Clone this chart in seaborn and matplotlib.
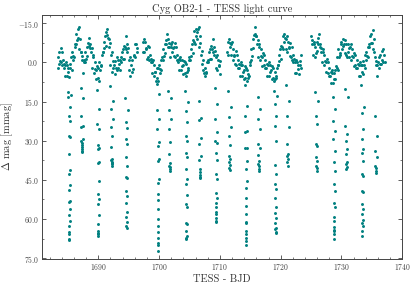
import numpy as np
import pandas as pd
import seaborn as sns
import matplotlib
matplotlib.use("Agg")
import matplotlib.pyplot as plt
from matplotlib.ticker import MultipleLocator, FuncFormatter

# %% Light curve (BJD - 2457000, mmag)
# quiescent band, sector 14 first orbit
band1_time = [
    1683.3, 1683.4, 1683.5, 1683.6, 1683.7, 1683.8, 1683.9, 1684.0, 1684.1, 1684.2,
    1684.3, 1684.4, 1684.5, 1684.6, 1684.7, 1684.8, 1684.9, 1685.0, 1685.1, 1685.2,
    1685.3, 1685.4, 1685.5, 1685.6, 1685.7, 1685.8, 1685.9, 1686.0, 1686.1, 1686.2,
    1686.3, 1686.4, 1686.5, 1686.6, 1686.7, 1686.8, 1686.9, 1687.0, 1687.1, 1687.2,
    1687.3, 1687.4, 1687.5, 1687.6, 1687.7, 1687.8, 1687.9, 1688.0, 1688.1, 1688.2,
    1688.3, 1688.4, 1688.5, 1688.6, 1688.7, 1688.8, 1688.9, 1689.0, 1689.1, 1689.2,
    1689.3, 1689.4, 1689.5, 1689.6, 1689.7, 1689.8, 1689.9, 1690.0, 1690.1, 1690.2,
    1690.3, 1690.4, 1690.5, 1690.6, 1690.7, 1690.8, 1690.9, 1691.0, 1691.1, 1691.2,
    1691.3, 1691.4, 1691.5, 1691.6, 1691.7, 1691.8, 1691.9, 1692.0, 1692.1, 1692.2,
    1692.3, 1692.4, 1692.5, 1692.6, 1692.7, 1692.8, 1692.9, 1693.0, 1693.1, 1693.2,
    1693.3, 1693.4, 1693.5, 1693.6, 1693.7, 1693.8, 1693.9, 1694.0, 1694.1, 1694.2,
    1694.3, 1694.4, 1694.5, 1694.6, 1694.7, 1694.8, 1694.9, 1695.0, 1695.1, 1695.2,
    1695.3, 1695.4, 1695.5, 1695.6, 1695.7, 1695.8, 1695.9, 1696.0, 1696.1, 1696.2,
    1696.3, 1696.4,
]
band1_mag = [
    2, -2, 0.5, -4, -0.5, -5.5, 0, -4, 1, -1,
    2, 0.5, 5, 1, 0, 5, 1, 3.5, 2, 5.5,
    0.5, 2, -2, 3, -4, -1, -2.5, -2, -6, -7,
    -7, -11, -8.5, -13, -9.5, -13.5, -5, -9, -4, -4,
    -1, -2.5, 4, 0, -1, 0, -4, -1.5, -6, -2.5,
    -7.5, -6.5, -9.5, -5.5, -7, -4, -5.5, 2, -2, -3,
    4, 0, 2.5, 3, 6.5, 1.5, 6, 2, 7, 0,
    3, 1.5, 1, -3, -4, -4, -8, -5.5, -10, -6.5,
    -11.5, -10.5, -13, -9.5, -9, -6, -7.5, 1, -3, -4,
    3.5, -0.5, 2, 1, 4.5, -0.5, 2, -2, 3, -1,
    2, 0.5, 3, -1, -2, 0, -4, -1.5, -5, -1.5,
    -6.5, -6, -10, -5, -7, -4, -5.5, 3, -1, -2,
    5, 1, 3.5, -1, 2.5, -2.5, -3, -7, -2, -7,
    -4, -5.5,
]

# sector 14 second orbit
band2_time = [
    1697.3, 1697.4, 1697.5, 1697.6, 1697.7, 1697.8, 1697.9, 1698.0, 1698.1, 1698.2,
    1698.3, 1698.4, 1698.5, 1698.6, 1698.7, 1698.8, 1698.9, 1699.0, 1699.1, 1699.2,
    1699.3, 1699.4, 1699.5, 1699.6, 1699.7, 1699.8, 1699.9, 1700.0, 1700.1, 1700.2,
    1700.3, 1700.4, 1700.5, 1700.6, 1700.7, 1700.8, 1700.9, 1701.0, 1701.1, 1701.2,
    1701.3, 1701.4, 1701.5, 1701.6, 1701.7, 1701.8, 1701.9, 1702.0, 1702.1, 1702.2,
    1702.3, 1702.4, 1702.5, 1702.6, 1702.7, 1702.8, 1702.9, 1703.0, 1703.1, 1703.2,
    1703.3, 1703.4, 1703.5, 1703.6, 1703.7, 1703.8, 1703.9, 1704.0, 1704.1, 1704.2,
    1704.3, 1704.4, 1704.5, 1704.6, 1704.7, 1704.8, 1704.9, 1705.0, 1705.1, 1705.2,
    1705.3, 1705.4, 1705.5, 1705.6, 1705.7, 1705.8, 1705.9, 1706.0, 1706.1, 1706.2,
    1706.3, 1706.4, 1706.5, 1706.6, 1706.7, 1706.8, 1706.9, 1707.0, 1707.1, 1707.2,
    1707.3, 1707.4, 1707.5, 1707.6, 1707.7, 1707.8, 1707.9, 1708.0, 1708.1, 1708.2,
    1708.3, 1708.4, 1708.5, 1708.6, 1708.7, 1708.8, 1708.9, 1709.0, 1709.1, 1709.2,
    1709.3, 1709.4, 1709.5, 1709.6, 1709.7, 1709.8, 1709.9, 1710.0, 1710.1,
]
band2_mag = [
    -4, -8, -9, -4, -8, -5.5, -5, -1.5, -6.5, -2,
    -6, -1, -3, 0, -1.5, 4, 0, -1, 5, 1,
    3.5, 3.5, 7, 2, 6, 2, 7, 1, 4, 2.5,
    3, -1, -2, -1, -5, -2.5, -7, -3.5, -8.5, -7,
    -11, -6, -9, -6, -7.5, -2, -6, -7, -4, -8,
    -5.5, -6, -2.5, -7.5, -2, -6, -1, -3, 0, -1.5,
    3, -1, -2, 3, -1, 1.5, 1, 4.5, -0.5, 4,
    0, 5, 0.5, 3.5, 2, 3, -1, -2, -1, -5,
    -2.5, -7, -3.5, -8.5, -8, -12, -7, -13, -10, -11.5,
    -9, -13, -13.5, -6, -10, -7.5, -3, 0.5, -4.5, 3,
    -1, 4, 2, 5, 3.5, 4, 0, -1, 0, -4,
    -1.5, -5, -1.5, -6.5, -5, -9, -4, -6, -3, -4.5,
    2, -2, -3, 3, -1, 1.5, 1, 4.5, -0.5,
]

# sector 15 first orbit
band3_time = [
    1711.2, 1711.3, 1711.4, 1711.5, 1711.6, 1711.7, 1711.8, 1711.9, 1712.0, 1712.1,
    1712.2, 1712.3, 1712.4, 1712.5, 1712.6, 1712.7, 1712.8, 1712.9, 1713.0, 1713.1,
    1713.2, 1713.3, 1713.4, 1713.5, 1713.6, 1713.7, 1713.8, 1713.9, 1714.0, 1714.1,
    1714.2, 1714.3, 1714.4, 1714.5, 1714.6, 1714.7, 1714.8, 1714.9, 1715.0, 1715.1,
    1715.2, 1715.3, 1715.4, 1715.5, 1715.6, 1715.7, 1715.8, 1715.9, 1716.0, 1716.1,
    1716.2, 1716.3, 1716.4, 1716.5, 1716.6, 1716.7, 1716.8, 1716.9, 1717.0, 1717.1,
    1717.2, 1717.3, 1717.4, 1717.5, 1717.6, 1717.7, 1717.8, 1717.9, 1718.0, 1718.1,
    1718.2, 1718.3, 1718.4, 1718.5, 1718.6, 1718.7, 1718.8, 1718.9, 1719.0, 1719.1,
    1719.2, 1719.3, 1719.4, 1719.5, 1719.6, 1719.7, 1719.8, 1719.9, 1720.0, 1720.1,
    1720.2, 1720.3, 1720.4, 1720.5, 1720.6, 1720.7, 1720.8, 1720.9, 1721.0, 1721.1,
    1721.2, 1721.3, 1721.4, 1721.5, 1721.6, 1721.7, 1721.8, 1721.9, 1722.0, 1722.1,
    1722.2, 1722.3, 1722.4, 1722.5, 1722.6, 1722.7, 1722.8, 1722.9, 1723.0, 1723.1,
    1723.2, 1723.3, 1723.4,
]
band3_mag = [
    -4, -8, -3, -9, -6, -7.5, -3, -7, -8, -1,
    -5, -2.5, -3, 0.5, -4.5, 1, -3, 2, -1, 2,
    0.5, 5, 1, 0, 5, 1, 3.5, 3, 6.5, 1.5,
    6, 2, 7, 3, 6, 4.5, 5, 1, 0, -1,
    -5, -2.5, -9, -5.5, -10.5, -11, -13.5, -10, -10, -7,
    -8.5, -2, -6, -7, -1, -5, -2.5, -2, 1.5, -3.5,
    1, -3, 2, -1, 2, 0.5, 5, 1, 0, 5,
    1, 3.5, 3, 6.5, 1.5, 6, 2, 7, 3.5, 6.5,
    5, 6, 2, 1, 1, -3, -0.5, -5, -1.5, -6.5,
    -6, -10, -5, -11, -8, -9.5, -5, -9, -10, -4,
    -8, -5.5, -6, -2.5, -7.5, -2, -6, -1, -3, 0,
    -1.5, 4, 0, -1, 4, 0, 2.5, 1, 4.5, -0.5,
    1, -3, 2,
]

# sector 15 second orbit
band4_time = [
    1725.0, 1725.1, 1725.2, 1725.3, 1725.4, 1725.5, 1725.6, 1725.7, 1725.8, 1725.9,
    1726.0, 1726.1, 1726.2, 1726.3, 1726.4, 1726.5, 1726.6, 1726.7, 1726.8, 1726.9,
    1727.0, 1727.1, 1727.2, 1727.3, 1727.4, 1727.5, 1727.6, 1727.7, 1727.8, 1727.9,
    1728.0, 1728.1, 1728.2, 1728.3, 1728.4, 1728.5, 1728.6, 1728.7, 1728.8, 1728.9,
    1729.0, 1729.1, 1729.2, 1729.3, 1729.4, 1729.5, 1729.6, 1729.7, 1729.8, 1729.9,
    1730.0, 1730.1, 1730.2, 1730.3, 1730.4, 1730.5, 1730.6, 1730.7, 1730.8, 1730.9,
    1731.0, 1731.1, 1731.2, 1731.3, 1731.4, 1731.5, 1731.6, 1731.7, 1731.8, 1731.9,
    1732.0, 1732.1, 1732.2, 1732.3, 1732.4, 1732.5, 1732.6, 1732.7, 1732.8, 1732.9,
    1733.0, 1733.1, 1733.2, 1733.3, 1733.4, 1733.5, 1733.6, 1733.7, 1733.8, 1733.9,
    1734.0, 1734.1, 1734.2, 1734.3, 1734.4, 1734.5, 1734.6, 1734.7, 1734.8, 1734.9,
    1735.0, 1735.1, 1735.2, 1735.3, 1735.4, 1735.5, 1735.6, 1735.7, 1735.8, 1735.9,
    1736.0, 1736.1, 1736.2, 1736.3, 1736.4, 1736.5, 1736.6, 1736.7, 1736.8, 1736.9,
    1737.0, 1737.1,
]
band4_mag = [
    -10, -7, -8.5, -3, -7, -8, -2, -6, -3.5, -8,
    -4.5, -9.5, -7, -11, -6, -7, -4, -5.5, 0, -4,
    -5, 1, -3, -0.5, 0, 3.5, -1.5, 4, 0, 5,
    2, 5, 3.5, 8, 4, 3, 8, 4, 6.5, 3,
    6.5, 1.5, 2, -2, 3, -5, -2, -3.5, -3, -7,
    -8, -5, -9, -6.5, -7, -3.5, -8.5, -3, -7, -2,
    -7, -4, -5.5, -2, -6, -7, -1, -5, -2.5, -2,
    1.5, -3.5, 1, -3, 2, -1, 2, 0.5, 5, 1,
    0, 5, 1, 3.5, 1, 4.5, -0.5, 1, -3, 2,
    -4, -1, -2.5, -2, -6, -7, -6, -10, -7.5, -11,
    -7.5, -12.5, -5, -9, -4, -2, 1, -0.5, 5, 1,
    0, 2, -2, 0.5, -3, 0.5, -4.5, -1, -5, 0,
    -3, 0,
]

# eclipse points (ingress / egress), one line per eclipse
ecl_time = [
    1685.05, 1685.45, 1685.10, 1685.40, 1685.12, 1685.38, 1685.15, 1685.35, 1685.18, 1685.32, 1685.20, 1685.30,
    1685.22, 1685.28, 1685.20, 1685.30, 1685.22, 1685.28, 1685.23, 1685.27, 1685.24, 1685.26, 1685.25,
    1687.10, 1687.50, 1687.15, 1687.45, 1687.18, 1687.42, 1687.22, 1687.38, 1687.25, 1687.35, 1687.28, 1687.32, 1687.30,
    1689.80, 1690.20, 1689.85, 1690.15, 1689.88, 1690.12, 1689.90, 1690.10, 1689.92, 1690.08, 1689.94, 1690.06,
    1689.96, 1690.04, 1689.97, 1690.03, 1689.98, 1690.02, 1690.00,
    1692.00, 1692.40, 1692.05, 1692.35, 1692.08, 1692.32, 1692.12, 1692.28, 1692.15, 1692.25, 1692.18, 1692.22, 1692.20,
    1694.45, 1694.85, 1694.50, 1694.80, 1694.52, 1694.78, 1694.55, 1694.75, 1694.58, 1694.72, 1694.60, 1694.70,
    1694.62, 1694.68, 1694.63, 1694.67, 1694.64, 1694.66,
    1699.65, 1700.05, 1699.70, 1700.00, 1699.72, 1699.98, 1699.75, 1699.95, 1699.78, 1699.92, 1699.80, 1699.90,
    1699.81, 1699.89, 1699.82, 1699.88, 1699.83, 1699.87, 1699.84, 1699.86, 1699.85,
    1701.55, 1701.95, 1701.60, 1701.90, 1701.63, 1701.87, 1701.67, 1701.83, 1701.70, 1701.80, 1701.73, 1701.76,
    1704.30, 1704.70, 1704.35, 1704.65, 1704.38, 1704.62, 1704.40, 1704.60, 1704.42, 1704.58, 1704.44, 1704.56,
    1704.46, 1704.54, 1704.47, 1704.53, 1704.48, 1704.52, 1704.49, 1704.50,
    1706.50, 1706.90, 1706.55, 1706.85, 1706.58, 1706.82, 1706.62, 1706.78, 1706.65, 1706.75, 1706.68, 1706.72,
    1709.20, 1709.60, 1709.25, 1709.55, 1709.28, 1709.52, 1709.30, 1709.50, 1709.32, 1709.48, 1709.34, 1709.46,
    1709.36, 1709.44, 1709.37, 1709.43, 1709.38, 1709.42, 1709.40,
    1711.40, 1711.80, 1711.45, 1711.75, 1711.48, 1711.72, 1711.52, 1711.68, 1711.55, 1711.65, 1711.58, 1711.62,
    1714.10, 1714.50, 1714.15, 1714.45, 1714.18, 1714.42, 1714.20, 1714.40, 1714.22, 1714.38, 1714.24, 1714.36,
    1714.26, 1714.34, 1714.27, 1714.33, 1714.28, 1714.32, 1714.29, 1714.31, 1714.30,
    1716.20, 1716.60, 1716.25, 1716.55, 1716.28, 1716.52, 1716.32, 1716.48, 1716.35, 1716.45, 1716.38, 1716.42,
    1718.95, 1719.35, 1719.00, 1719.30, 1719.03, 1719.27, 1719.05, 1719.25, 1719.07, 1719.23, 1719.09, 1719.21,
    1719.11, 1719.19, 1719.12, 1719.18, 1719.13, 1719.17, 1719.15,
    1720.95, 1721.35, 1721.00, 1721.30, 1721.05, 1721.25, 1721.09, 1721.21, 1721.12, 1721.17,
    1725.70, 1726.10, 1725.75, 1726.05, 1725.78, 1726.02, 1725.82, 1725.98, 1725.85, 1725.95, 1725.90,
    1728.60, 1729.00, 1728.65, 1728.95, 1728.68, 1728.92, 1728.70, 1728.90, 1728.72, 1728.88, 1728.74, 1728.86,
    1728.76, 1728.84, 1728.77, 1728.83, 1728.78, 1728.82, 1728.80,
    1730.60, 1731.00, 1730.65, 1730.95, 1730.68, 1730.92, 1730.72, 1730.88, 1730.75, 1730.85, 1730.80,
    1733.25, 1733.65, 1733.30, 1733.60, 1733.33, 1733.57, 1733.35, 1733.55, 1733.37, 1733.53, 1733.39, 1733.51,
    1733.40, 1733.50, 1733.41, 1733.49, 1733.42, 1733.48, 1733.43, 1733.45,
    1735.45, 1735.85, 1735.50, 1735.80, 1735.55, 1735.75, 1735.60, 1735.68,
]
ecl_mag = [
    11.4, 12.4, 13.3, 17.2, 20.4, 22.3, 28.0, 28.7, 34.9, 41.1, 42.9, 46.8,
    48.9, 52.9, 53.3, 56.3, 58.5, 60.8, 62.8, 65.0, 65.6, 67.6, 68.1,
    9.7, 13.7, 20.4, 24.2, 24.8, 29.4, 30.2, 31.0, 31.8, 32.5, 33.2, 33.8, 34.4,
    10.5, 17.8, 23.6, 25.5, 31.6, 32.6, 33.2, 38.0, 38.7, 45.4, 50.5, 52.4,
    54.4, 58.5, 62.0, 64.6, 65.3, 65.9, 66.5,
    9.2, 14.6, 17.8, 21.7, 24.9, 28.2, 32.3, 37.0, 37.5, 38.0, 38.5, 39.0, 39.6,
    13.8, 18.3, 22.8, 25.0, 29.2, 31.3, 36.4, 39.6, 43.9, 44.4, 49.2, 51.2,
    53.8, 57.2, 59.2, 61.3, 62.8, 63.5,
    8.2, 12.0, 18.3, 21.7, 25.5, 30.6, 31.9, 37.1, 37.7, 44.7, 46.0, 50.5,
    52.8, 56.3, 59.9, 62.8, 65.0, 67.4, 69.3, 70.0, 72.3,
    10.8, 13.6, 18.3, 21.7, 25.5, 30.6, 34.9, 38.7, 39.5, 40.2, 40.9, 41.5,
    10.8, 15.3, 18.7, 22.8, 28.2, 30.0, 34.5, 36.2, 41.0, 44.7, 46.7, 50.8,
    54.4, 55.3, 61.4, 62.0, 64.4, 66.5, 67.2, 67.8,
    14.6, 21.3, 22.0, 28.8, 31.3, 35.8, 37.4, 41.0, 42.0, 43.0, 43.8, 44.4,
    9.7, 15.9, 21.7, 26.8, 30.0, 31.0, 34.5, 37.4, 42.8, 44.7, 49.9, 52.1,
    53.8, 55.4, 57.2, 58.0, 59.5, 60.8, 61.2,
    10.8, 17.2, 21.0, 24.9, 28.2, 31.5, 35.8, 37.0, 38.2, 39.3, 40.3, 41.3,
    8.8, 16.5, 20.4, 26.2, 26.8, 32.6, 32.8, 37.7, 41.0, 45.4, 48.2, 52.1,
    55.1, 58.2, 61.0, 61.5, 64.6, 65.6, 67.4, 68.5, 70.0,
    13.3, 17.8, 21.7, 25.5, 31.3, 32.8, 35.4, 37.7, 38.8, 39.8, 40.7, 41.5,
    10.8, 12.7, 15.9, 20.4, 24.2, 30.0, 39.2, 42.8, 46.7, 48.6, 51.8, 55.4,
    57.6, 59.5, 61.4, 63.3, 63.9, 64.9, 65.3,
    8.8, 14.6, 20.4, 24.9, 31.3, 34.9, 36.0, 37.1, 38.3, 39.6,
    11.4, 14.6, 20.4, 23.6, 31.3, 32.0, 36.4, 37.7, 39.6, 40.3, 41.7,
    13.3, 17.8, 22.3, 26.2, 29.4, 33.8, 38.0, 41.5, 46.7, 49.2, 53.8, 55.4,
    59.2, 60.8, 63.1, 64.0, 64.6, 65.9, 67.6,
    10.1, 13.3, 24.2, 27.4, 30.0, 33.2, 34.9, 38.0, 39.0, 40.0, 41.0,
    8.8, 17.2, 19.2, 25.5, 29.4, 33.2, 34.5, 37.7, 42.8, 43.4, 49.4, 49.8,
    54.4, 56.3, 58.2, 60.5, 61.4, 62.7, 64.4, 66.5,
    20.4, 28.2, 33.8, 36.4, 39.6, 40.5, 41.4, 42.2,
]

# %% Collect in a dataframe
lc = pd.DataFrame({
    "time": band1_time + band2_time + band3_time + band4_time + ecl_time,
    "mag": band1_mag + band2_mag + band3_mag + band4_mag + ecl_mag,
})

# %% Style (science-like: serif, ticks in on all sides)
sns.set_style("ticks")
plt.rcParams.update({
    "font.family": "cmr10",
    "mathtext.fontset": "cm",
    "axes.formatter.use_mathtext": True,
    "axes.unicode_minus": True,
    "xtick.direction": "in",
    "ytick.direction": "in",
    "xtick.top": True,
    "ytick.right": True,
    "xtick.minor.visible": True,
    "ytick.minor.visible": True,
    "axes.edgecolor": "#444444",
    "xtick.color": "#444444",
    "ytick.color": "#444444",
    "text.color": "#333333",
    "axes.labelcolor": "#333333",
})

fig, ax = plt.subplots(figsize=(4.15, 2.88), dpi=100)
fig.subplots_adjust(left=0.1005, right=0.9694, bottom=0.1007, top=0.948)

sns.scatterplot(data=lc, x="time", y="mag", color="#008080", s=4.5,
                linewidth=0, ax=ax, legend=False)

ax.set_xlim(1680.7, 1740)
ax.set_ylim(75.3, -18.2)

ax.xaxis.set_major_locator(MultipleLocator(10))
ax.xaxis.set_minor_locator(MultipleLocator(2))
ax.yaxis.set_major_locator(MultipleLocator(15))
ax.yaxis.set_minor_locator(MultipleLocator(7.5))
ax.xaxis.set_major_formatter(FuncFormatter(lambda v, p: f"${v:.0f}$"))
ax.yaxis.set_major_formatter(FuncFormatter(lambda v, p: f"${v:.1f}$"))

ax.tick_params(which="major", length=3, width=0.6, labelsize=5.5, pad=2)
ax.tick_params(which="minor", length=1.5, width=0.5)
for sp in ax.spines.values():
    sp.set_linewidth(0.7)

ax.set_title("Cyg OB2-1 - TESS light curve", fontsize=7.5, pad=2)
ax.set_xlabel("TESS - BJD", fontsize=7.5, labelpad=2)
ax.set_ylabel(r"$\Delta$ mag [mmag]", fontsize=7.5, labelpad=2)

plt.savefig("out.png", dpi=100)
